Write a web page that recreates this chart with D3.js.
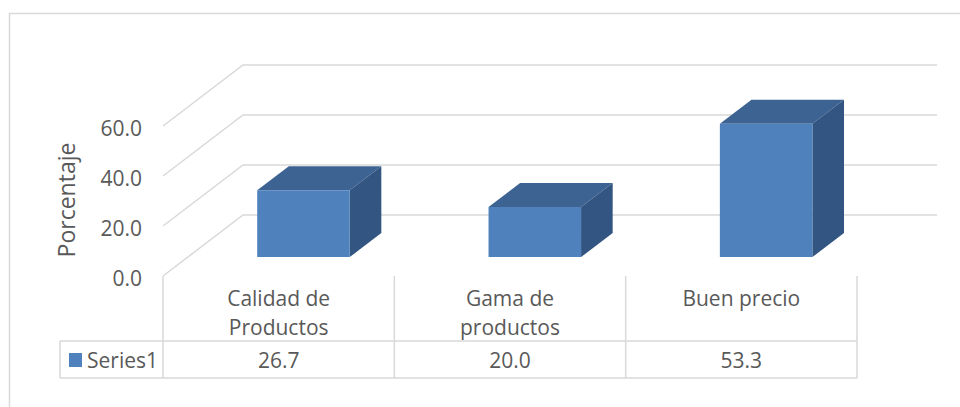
<!DOCTYPE html>
<html>
<head>
<meta charset="utf-8">
<script src="https://cdnjs.cloudflare.com/ajax/libs/d3/7.8.5/d3.min.js"></script>
<style>
  html, body { margin: 0; padding: 0; background: #fff; }
  svg { display: block; font-family: 'Open Sans', sans-serif; }
  text { fill: #595959; }
</style>
</head>
<body>
<div id="main"></div>
<script>
var categories = [['Calidad de', 'Productos'], ['Gama de', 'productos'], ['Buen precio']];
var values = [26.7, 20.0, 53.3];
var yTicks = [0, 20, 40, 60];
var seriesName = 'Series1';

function Chart() {
  this.width = 960;
  this.height = 407;
}

Chart.prototype.init = function() {
  this.svg = d3.select('#main')
    .append('svg')
    .attr('width', this.width)
    .attr('height', this.height);

  // front plane scales
  this.x = d3.scaleBand()
    .domain(d3.range(categories.length))
    .range([163, 857])
    .padding(0);
  this.y = d3.scaleLinear()
    .domain([0, 60])
    .range([276, 126]);
  // depth (oblique projection)
  this.dx = d3.scaleLinear().domain([0, 1]).range([0, 80]);
  this.dy = d3.scaleLinear().domain([0, 1]).range([0, -61]);
};

Chart.prototype.render = function() {
  var svg = this.svg, x = this.x, y = this.y, dx = this.dx, dy = this.dy;
  var grid = '#d9d9d9';

  // outer chart border
  svg.append('path')
    .attr('d', 'M9.5,407 L9.5,13.5 L960,13.5')
    .attr('fill', 'none')
    .attr('stroke', grid)
    .attr('stroke-width', 1.5);

  // gridlines: side wall diagonal + back wall line
  var g = svg.append('g').attr('class', 'grid');
  g.selectAll('path')
    .data(yTicks)
    .enter()
    .append('path')
    .attr('d', function(d) {
      var x0 = x.range()[0], x1 = x.range()[1];
      return 'M' + x0 + ',' + y(d) +
        ' L' + (x0 + dx(1)) + ',' + (y(d) + dy(1)) +
        ' L' + (x1 + dx(1)) + ',' + (y(d) + dy(1));
    })
    .attr('fill', 'none')
    .attr('stroke', grid)
    .attr('stroke-width', 1.5);

  // tick labels
  svg.append('g').selectAll('text')
    .data(yTicks)
    .enter()
    .append('text')
    .attr('x', 142)
    .attr('y', function(d) { return y(d) + 2; })
    .attr('text-anchor', 'end')
    .attr('dominant-baseline', 'central')
    .style('font-size', '21px')
    .text(function(d) { return d3.format('.1f')(d); });

  // axis title
  svg.append('text')
    .attr('transform', 'translate(66,200) rotate(-90)')
    .attr('text-anchor', 'middle')
    .attr('dominant-baseline', 'central')
    .style('font-size', '23px')
    .text('Porcentaje');

  // bars
  var z0 = 0.31, z1 = 0.705;
  var bars = svg.append('g').selectAll('g.bar')
    .data(values)
    .enter()
    .append('g')
    .attr('class', 'bar');

  function pt(px, py, z) {
    return (px + dx(z)) + ',' + (py + dy(z));
  }

  bars.each(function(d, i) {
    var bw = x.bandwidth();
    var l = x(i) + bw * 0.3, r = x(i) + bw * 0.7;
    var t = y(d), b = y(0);
    var sel = d3.select(this);
    // top face
    sel.append('polygon')
      .attr('points', [pt(l, t, z0), pt(r, t, z0), pt(r, t, z1), pt(l, t, z1)].join(' '))
      .attr('fill', '#3d6392');
    // side face
    sel.append('polygon')
      .attr('points', [pt(r, t, z0), pt(r, t, z1), pt(r, b, z1), pt(r, b, z0)].join(' '))
      .attr('fill', '#335581');
    // front face
    sel.append('polygon')
      .attr('points', [pt(l, t, z0), pt(r, t, z0), pt(r, b, z0), pt(l, b, z0)].join(' '))
      .attr('fill', '#4f81bd');
  });

  // data table lines
  var tTop = 341, tBot = 378, tLeft = 60;
  var lines = [
    {x1: x.range()[0], y1: y(0), x2: x.range()[0], y2: tBot},
    {x1: tLeft, y1: tTop, x2: x.range()[1], y2: tTop},
    {x1: tLeft, y1: tBot, x2: x.range()[1], y2: tBot},
    {x1: tLeft, y1: tTop, x2: tLeft, y2: tBot}
  ];
  categories.forEach(function(c, i) {
    var xr = x(i) + x.bandwidth();
    lines.push({x1: xr, y1: y(0), x2: xr, y2: tBot});
  });
  svg.append('g').selectAll('line')
    .data(lines)
    .enter()
    .append('line')
    .attr('x1', function(d) { return d.x1; })
    .attr('y1', function(d) { return d.y1; })
    .attr('x2', function(d) { return d.x2; })
    .attr('y2', function(d) { return d.y2; })
    .attr('stroke', grid)
    .attr('stroke-width', 1.5);

  // category labels
  var cat = svg.append('g').selectAll('text')
    .data(categories)
    .enter()
    .append('text')
    .attr('text-anchor', 'middle')
    .style('font-size', '21px');
  cat.selectAll('tspan')
    .data(function(d, i) { return d.map(function(s) { return {s: s, i: i}; }); })
    .enter()
    .append('tspan')
    .attr('x', function(d) { return x(d.i) + x.bandwidth() / 2; })
    .attr('y', function(d, j) { return 306 + j * 29; })
    .text(function(d) { return d.s; });

  // table values
  svg.append('g').selectAll('text')
    .data(values)
    .enter()
    .append('text')
    .attr('x', function(d, i) { return x(i) + x.bandwidth() / 2; })
    .attr('y', 368)
    .attr('text-anchor', 'middle')
    .style('font-size', '21px')
    .text(function(d) { return d3.format('.1f')(d); });

  // legend key
  svg.append('rect')
    .attr('x', 69)
    .attr('y', 353)
    .attr('width', 13)
    .attr('height', 14)
    .attr('fill', '#4f81bd');
  svg.append('text')
    .attr('x', 87)
    .attr('y', 368)
    .style('font-size', '21px')
    .text(seriesName);
};

document.addEventListener('DOMContentLoaded', function() {
  var c = new Chart();
  c.init();
  c.render();
});
</script>
</body>
</html>
